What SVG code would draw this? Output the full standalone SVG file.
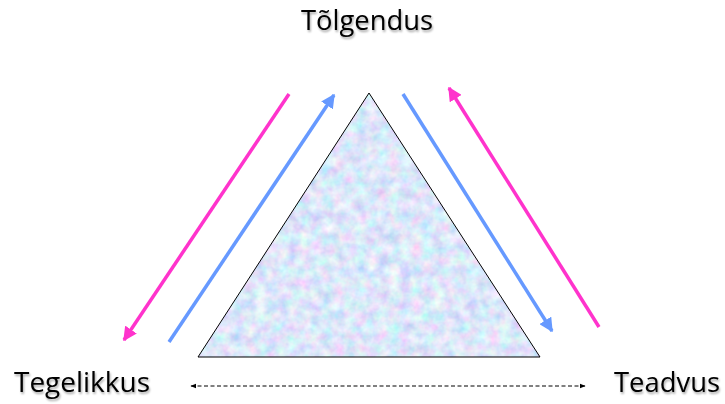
<svg xmlns="http://www.w3.org/2000/svg" width="725" height="404" viewBox="0 0 725 404">
<style>
.lbl{font-family:"Open Sans","Liberation Sans",sans-serif;font-size:27px;fill:#000}
.pink{stroke:#ff33cc;stroke-width:3.5;fill:none}
.blue{stroke:#6699ff;stroke-width:3.5;fill:none}
</style>
<defs>
<marker id="mp" viewBox="0 0 10 10" refX="9" refY="5" markerWidth="4" markerHeight="4" orient="auto" markerUnits="strokeWidth"><path d="M0,0 L10,5 L0,10 z" fill="#ff33cc"/></marker>
<marker id="mb" viewBox="0 0 10 10" refX="9" refY="5" markerWidth="4" markerHeight="4" orient="auto" markerUnits="strokeWidth"><path d="M0,0 L10,5 L0,10 z" fill="#6699ff"/></marker>
<marker id="mk" viewBox="0 0 10 10" refX="9" refY="5" markerWidth="6" markerHeight="6" orient="auto-start-reverse" markerUnits="strokeWidth"><path d="M0,1 L10,5 L0,9 z" fill="#000"/></marker>
<filter id="tex" x="0" y="0" width="1" height="1">
<feTurbulence type="fractalNoise" baseFrequency="0.09" numOctaves="3" seed="4" result="n"/>
<feColorMatrix in="n" type="matrix" values="0.7 0 0 0 0.37  0 0.6 0 0 0.5  0 0 0.2 0 0.85  0 0 0 0 1" result="c"/>
<feComposite in="c" in2="SourceGraphic" operator="in"/>
</filter>
<filter id="sh" x="-5%" y="-20%" width="110%" height="140%">
<feGaussianBlur in="SourceAlpha" stdDeviation="1"/><feOffset dx="1" dy="1.5"/><feComponentTransfer><feFuncA type="linear" slope="0.35"/></feComponentTransfer>
<feMerge><feMergeNode/><feMergeNode in="SourceGraphic"/></feMerge>
</filter>
</defs>
<g id="triangle">
<polygon points="369,93 198,357 540,357" fill="#c2d4f2" filter="url(#tex)"/>
<polygon points="369,93 198,357 540,357" fill="none" stroke="#000" stroke-width="1"/>
</g>
<g id="tolgendus"><text class="lbl" x="367" y="30" text-anchor="middle" textLength="132" lengthAdjust="spacingAndGlyphs" filter="url(#sh)">Tõlgendus</text></g>
<g id="tegelikkus"><text class="lbl" x="14" y="392" textLength="136" lengthAdjust="spacingAndGlyphs" filter="url(#sh)">Tegelikkus</text></g>
<g id="teadvus"><text class="lbl" x="614" y="392" textLength="106" lengthAdjust="spacingAndGlyphs" filter="url(#sh)">Teadvus</text></g>
<g id="connectors">
<line class="pink" x1="289" y1="94" x2="124" y2="340" marker-end="url(#mp)"/>
<line class="blue" x1="169" y1="342" x2="334" y2="95" marker-end="url(#mb)"/>
<line class="blue" x1="403" y1="94" x2="552" y2="331" marker-end="url(#mb)"/>
<line class="pink" x1="599" y1="327" x2="449" y2="88" marker-end="url(#mp)"/>
<line x1="191" y1="386" x2="585" y2="386" stroke="#000" stroke-width="1" stroke-dasharray="4,2.5" marker-start="url(#mk)" marker-end="url(#mk)"/>
</g>
</svg>
